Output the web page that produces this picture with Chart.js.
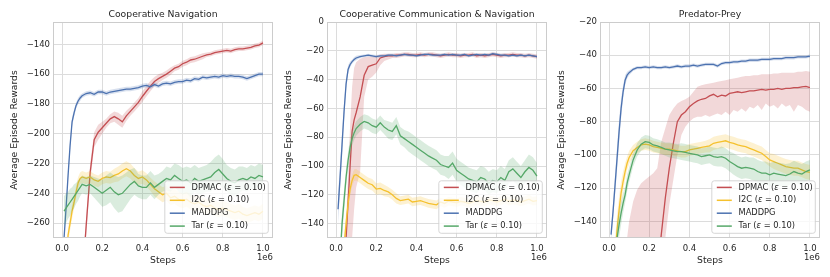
<!DOCTYPE html>
<html>
<head>
<meta charset="utf-8">
<script src="https://cdn.jsdelivr.net/npm/chart.js@4.4.0/dist/chart.umd.min.js"></script>
<style>
  body { margin: 0; background: #fff; width: 830px; height: 277px; position: relative; overflow: hidden; }
  .panel { position: absolute; top: 0; width: 277px; height: 277px; }
</style>
</head>
<body>
<div class="panel" style="left:0px"><canvas id="nav" width="277" height="277"></canvas></div>
<div class="panel" style="left:274px"><canvas id="comm" width="277" height="277"></canvas></div>
<div class="panel" style="left:547px"><canvas id="pp" width="277" height="277"></canvas></div>
<script>
// training steps (x 1e6)
const steps = [0.01, 0.02, 0.03, 0.04, 0.05, 0.06, 0.07, 0.08, 0.09, 0.10,
  0.12, 0.14, 0.16, 0.18, 0.20, 0.22, 0.24, 0.26, 0.28, 0.30,
  0.32, 0.34, 0.36, 0.38, 0.40, 0.42, 0.44, 0.46, 0.48, 0.50,
  0.52, 0.54, 0.56, 0.58, 0.60, 0.62, 0.64, 0.66, 0.68, 0.70,
  0.72, 0.74, 0.76, 0.78, 0.80, 0.82, 0.84, 0.86, 0.88, 0.90,
  0.92, 0.94, 0.96, 0.98, 1.00];

const xTicks = [0, 0.2, 0.4, 0.6, 0.8, 1.0];
const navYTicks = [-260, -240, -220, -200, -180, -160, -140];
const commYTicks = [-140, -120, -100, -80, -60, -40, -20, 0];
const ppYTicks = [-140, -120, -100, -80, -60, -40, -20];

const legendLabels = ['DPMAC (ε = 0.10)', 'I2C (ε = 0.10)', 'MADDPG', 'Tar (ε = 0.10)'];
const seriesColors = ['#C44E52', '#F5C12E', '#4C72B0', '#55A868'];

// ---- Cooperative Navigation ----
const navDpmac = [-420, -410, -400, -390, -380, -370, -360, -345, -330, -300,
  -262, -226, -204, -199, -196,
  -193, -190, -188.5, -190, -192,
  -188, -185, -182, -179, -175,
  -171.5, -168, -165, -163, -161.5,
  -160, -158, -156, -155, -153,
  -152, -150.5, -150, -149, -148,
  -147, -146.5, -145.5, -145, -144.5,
  -144, -144.5, -143.5, -143, -143,
  -142.5, -142, -141, -140.5, -139];
const navDpmacBand = [6, 6, 6, 6, 6, 6, 6, 6, 6, 6,
  6, 6, 5, 5, 4, 3, 3, 3.5, 4, 4, 3.5, 3, 3, 3, 3.5, 3.5, 3.5, 3, 3, 2.5,
  2.5, 2.5, 2, 2, 2, 2, 2, 2, 2, 2, 1.5, 1.5, 1.5, 1.5, 1.5,
  1.5, 1.5, 1.5, 1.5, 1.5, 1.5, 1.5, 1.5, 1.5, 1.5];
const navI2c = [-330, -290, -268, -260, -252, -246, -239, -233, -230, -229,
  -230, -229, -231, -232, -230,
  -229, -229.5, -228, -227, -225,
  -223.5, -225, -228, -230, -229,
  -231, -234, -237, -239, -241,
  -240, -243, -242, -244, -245,
  -244, -246, -247, -246, -248,
  -249, -248, -250, -251, -250,
  -251, -252, -253, -252, -254,
  -255, -254, -253, -254, -252];
const navI2cBand = [5, 5, 5, 5, 5, 4, 4, 4, 4, 4,
  4, 4, 4, 4, 4, 4, 4, 4.5, 5, 5, 5, 5, 5, 4.5, 4.5, 4.5, 4.5, 5, 5, 5,
  5, 5, 5, 5, 5, 5, 5, 5, 5, 5, 5, 5, 5, 5, 5,
  5, 5, 5, 5, 5, 5, 5, 5, 5, 5];
const navMaddpg = [-270, -250, -228, -208, -192, -186, -181, -178, -176, -174.5,
  -173, -172.5, -173.5, -172, -172,
  -173, -172, -171.5, -171, -170.5,
  -170, -170, -169.5, -169, -168,
  -167.5, -168.5, -167, -168, -166.5,
  -166, -166.5, -165.5, -165, -165,
  -164, -164.5, -163, -163.5, -162,
  -162.5, -162, -161.5, -162, -161,
  -161.5, -161, -161.5, -161.5, -162,
  -163, -162, -161, -160, -160];
const navMaddpgBand = [3, 3, 3, 3, 3, 2.5, 2, 2, 2, 1.5,
  1.5, 1.5, 1.5, 1.5, 1.5, 1.5, 1.5, 1.5, 1.5, 1.5, 1.5, 1.5, 1.5, 1.5, 1.5,
  1.5, 1.5, 1.5, 1.5, 1.5, 1.5, 1.5, 1.5, 1.5, 1.5, 1.5, 1.5, 1.5, 1.5, 1.5,
  1.5, 1.5, 1.5, 1.5, 1.5, 1.5, 1.5, 1.5, 1.5, 1.5, 1.5, 1.5, 1.5, 1.5, 1.5];
const navTar = [-252, -250, -248, -246, -244, -242, -240, -238, -236, -234,
  -235, -234, -236, -238, -240,
  -238, -236, -239, -241, -240,
  -237, -234, -232, -235, -236,
  -236, -233, -236, -234, -232,
  -230, -231, -228, -230, -232,
  -231, -233, -230, -232, -231,
  -230, -229, -226, -224, -227,
  -230, -232, -233, -231, -230,
  -231, -229, -230, -228, -229];
const navTarBand = [10, 10, 9, 9, 8, 8, 7, 7, 6, 6,
  6, 6, 7, 8, 9, 10, 10, 11, 12, 12, 11, 10, 9, 8, 8, 8, 8, 8, 7, 7,
  8, 8, 8, 9, 9, 9, 10, 9, 9, 9, 9, 10, 10, 10, 10,
  9, 9, 9, 9, 8, 8, 8, 8, 8, 8];

// ---- Cooperative Communication & Navigation ----
const commDpmac = [-220, -210, -195, -175, -150, -125, -100, -76, -68, -63,
  -52, -37, -31, -30, -29,
  -25, -24, -23.5, -23.5, -23,
  -23, -22.5, -22.5, -23, -23,
  -22.5, -23, -22.5, -22.5, -23,
  -23.5, -23, -22.5, -23, -23,
  -23.5, -23, -23, -22.5, -23.5,
  -23, -23.5, -23, -22.5, -23,
  -23.5, -23, -23, -22.5, -23,
  -23, -23.5, -23, -23.5, -24];
const commDpmacLo = [-260, -250, -240, -230, -220, -200, -175, -150, -130, -115,
  -104, -52, -40, -38, -35,
  -30, -27, -26, -25, -25,
  -24.5, -24, -24, -24.5, -24.5,
  -24, -24.5, -24, -24, -24.5,
  -25, -24.5, -24, -24.5, -24.5,
  -25, -24.5, -24.5, -24, -25,
  -24.5, -25, -24.5, -24, -24.5,
  -25, -24.5, -24.5, -24, -24.5,
  -24.5, -25, -24.5, -25, -25.5];
const commDpmacHi = [-200, -190, -180, -160, -140, -105, -72, -45, -32, -28,
  -25.5, -24.5, -24, -24, -23.5,
  -22.5, -22, -22, -22, -21.5,
  -21.5, -21, -21, -21.5, -21.5,
  -21, -21.5, -21, -21, -21.5,
  -22, -21.5, -21, -21.5, -21.5,
  -22, -21.5, -21.5, -21, -22,
  -21.5, -22, -21.5, -21, -21.5,
  -22, -21.5, -21.5, -21, -21.5,
  -21.5, -22, -21.5, -22, -22.5];
const commI2c = [-250, -220, -190, -155, -140, -126, -116, -110, -106.5, -106,
  -108, -110, -112, -113, -116,
  -115.5, -117, -118, -120, -122.5,
  -124, -123.5, -123, -125, -124.5,
  -124, -125, -126, -126.5, -127,
  -125, -126, -124.5, -125, -125.5,
  -124.5, -125, -126, -125, -124,
  -124.5, -125, -123.5, -124, -125,
  -124, -123, -124.5, -123.5, -124,
  -125, -124, -123, -124.5, -124];
const commI2cBand = [8, 8, 8, 8, 7, 6, 5, 4, 4, 4,
  4, 4, 4, 4, 4, 4, 4, 3.5, 3.5, 3.5, 3, 3, 3, 3, 3, 3, 3, 3, 3, 3,
  3, 3, 3, 3, 3, 3, 3, 3, 3, 3, 3, 3, 3, 3, 3,
  3, 3, 3, 3, 3, 3, 3, 3, 3, 3];
const commMaddpg = [-130, -108, -85, -62, -43, -33, -29.5, -27.5, -26, -25,
  -24, -23.5, -23, -23.5, -24,
  -23.5, -23.5, -23, -23, -23.5,
  -23, -22.5, -23, -23, -23.5,
  -23, -22.5, -22.5, -23, -23,
  -23, -22.5, -23, -22.5, -23,
  -23, -22.5, -23.5, -23, -22.5,
  -23, -22.5, -23, -22, -22.5,
  -23, -23, -23.5, -23, -23.5,
  -23, -23.5, -23, -23.5, -24];
const commMaddpgBand = [10, 9, 8, 6, 4, 3, 2, 1.5, 1.5, 1.5,
  1, 1, 1, 1, 1, 1, 1, 1, 1, 1, 1, 1, 1, 1, 1, 1, 1, 1, 1, 1,
  1, 1, 1, 1, 1, 1, 1, 1, 1, 1, 1, 1, 1, 1, 1,
  1, 1, 1, 1, 1, 1, 1, 1, 1, 1];
const commTar = [-200, -165, -140, -124, -108, -96, -87, -81, -77, -74,
  -71, -69, -70, -72, -73,
  -70, -73, -75, -76, -72,
  -79, -81, -83, -85, -87,
  -89, -91, -93, -94.5, -96,
  -99, -100, -101, -98, -103,
  -105, -107, -109, -110, -111,
  -108, -109, -112, -110, -111,
  -108, -110, -104, -102, -105,
  -108, -104, -101, -103, -107];
const commTarBand = [10, 10, 9, 8, 7, 6, 6, 5, 5, 5,
  5, 5, 5, 5, 5, 5, 5, 6, 6, 6, 6, 6, 7, 7, 7, 7, 7, 7, 7, 7,
  7, 7, 8, 8, 8, 8, 8, 8, 8, 8, 8, 8, 8, 8, 8,
  8, 8, 8, 8, 8, 8, 8, 9, 9, 9];

// ---- Predator-Prey ----
const ppDpmac = [-400, -390, -380, -370, -360, -350, -340, -330, -320, -310,
  -290, -270, -250, -230, -210,
  -190, -170, -148, -126, -108,
  -93, -80, -76, -74, -71,
  -69, -67.5, -66.5, -66, -64.5,
  -63.5, -65, -64, -64.5, -63,
  -62.5, -62, -62.5, -62, -61.5,
  -61.5, -61, -60.5, -61, -60.5,
  -60.5, -60, -60.5, -60, -60,
  -59.5, -59.5, -59, -58.8, -59.5];
const ppDpmacLo = [-450, -440, -430, -420, -410, -400, -390, -380, -370, -360,
  -340, -320, -300, -280, -260,
  -240, -215, -175, -150, -130,
  -115, -100, -88, -83, -80,
  -78, -77, -77, -76, -77,
  -76, -75, -76, -74, -76,
  -73, -74, -72, -74, -71,
  -72, -70, -73, -69, -71,
  -70, -72, -69, -71, -70,
  -74, -70, -71, -73, -74];
const ppDpmacHi = [-300, -280, -260, -240, -220, -200, -180, -165, -150, -140,
  -128, -121, -117, -115, -113,
  -111, -108, -92, -84, -76,
  -72, -69, -67.5, -66.5, -65,
  -62, -59, -58, -57.5, -57,
  -56.5, -56, -55.5, -55, -54.5,
  -54, -53.5, -53, -52.5, -52.5,
  -52, -52, -51.5, -51.5, -51.5,
  -51, -51, -50.5, -50.5, -50.5,
  -50.5, -50, -50, -49.5, -50];
const ppI2c = [-250, -200, -160, -145, -133, -123, -116, -110, -105, -101.5,
  -97.5, -95.5, -94, -93.5, -94,
  -95, -95.5, -96, -96.5, -96.5,
  -97, -97.5, -98, -98, -97,
  -96.5, -96, -95.5, -95, -94.5,
  -93, -92.5, -92, -91.5, -92.5,
  -93, -94, -94.5, -95, -96,
  -97, -98, -99, -101, -103,
  -104, -105, -106, -107, -107.5,
  -108, -108, -109, -110, -110.5];
const ppI2cBand = [10, 10, 10, 9, 8, 7, 6, 5, 4, 4,
  3.5, 3.5, 3.5, 3.5, 3.5, 3.5, 3.5, 3.5, 3.5, 3.5, 3.5, 3.5, 3.5, 3.5, 3.5,
  3.5, 3.5, 3.5, 3.5, 4, 4, 4, 4, 4, 4, 4, 4, 4, 4, 4,
  4, 4, 4, 4, 4, 4.5, 4.5, 4.5, 4.5, 4.5, 4.5, 4.5, 4.5, 4.5, 4.5];
const ppMaddpg = [-148, -134, -118, -102, -86, -72, -62, -55, -52, -50.5,
  -48.5, -47.5, -47.5, -47, -47.5,
  -47, -47.5, -47.5, -47, -47.5,
  -47, -46.5, -47, -46.5, -46.5,
  -46, -46.5, -46, -45.5, -45.5,
  -45.5, -46.5, -45, -44.5, -44.5,
  -44, -44, -43.5, -43.5, -43,
  -43, -43, -42.5, -42.5, -42.5,
  -42, -42, -42, -41.5, -41.5,
  -41.5, -41, -41, -41, -40.5];
const ppMaddpgBand = [4, 5, 6, 7, 7, 6, 4, 3, 2, 1.5,
  1, 1, 1, 1, 1, 1, 1, 1, 1, 1, 1, 1, 1, 1, 1, 1, 1, 1, 1, 1,
  1, 1, 1, 1, 1, 1, 1, 1, 1, 1, 1, 1, 1, 1, 1,
  1, 1, 1, 1, 1, 1, 1, 1, 1, 1];
const ppTar = [-250, -210, -175, -150, -142, -135, -129, -124, -117, -112,
  -103, -97, -93.5, -92, -92.5,
  -94, -94.5, -95.5, -96.5, -97,
  -97.5, -98, -98, -98.5, -99,
  -99.5, -100, -101, -100.5, -100,
  -101, -101.5, -101, -102, -104,
  -105.5, -107, -108, -107.5, -108,
  -108.5, -110, -111, -111, -112,
  -111, -111.5, -112, -112.5, -111.5,
  -110, -111, -111.5, -110, -109];
const ppTarBand = [10, 10, 10, 9, 8, 7, 6, 5, 5, 4.5,
  4, 4, 4, 4, 4, 4, 4, 4, 4, 4.5, 4.5, 4.5, 5, 5, 5, 5, 5, 5, 5, 5,
  5.5, 5.5, 6, 6, 6, 6.5, 6.5, 6.5, 6.5, 6.5, 7, 7, 7, 7, 7,
  7, 7, 7, 7, 6.5, 6.5, 6.5, 6, 6, 6];

const INK = '#262626';
const GRID = '#dcdcdc';
const EDGE = '#cccccc';
Chart.defaults.font.family = 'DejaVu Sans';
Chart.defaults.color = INK;

function pts(arr) {
  return steps.map((x, i) => ({ x: x, y: arr[i] }));
}

function rgba(hex, a) {
  const n = parseInt(hex.slice(1), 16);
  return 'rgba(' + (n >> 16) + ',' + ((n >> 8) & 255) + ',' + (n & 255) + ',' + a + ')';
}

// mean +/- half width of the shaded band
function spread(mean, band) {
  return {
    mean: mean,
    lo: mean.map((v, i) => v - band[i]),
    hi: mean.map((v, i) => v + band[i])
  };
}

function buildDatasets(list) {
  const out = [];
  list.forEach((s, k) => {
    const color = seriesColors[k];
    const order = 10 - k * 2; // DPMAC at the bottom, Tar on top
    out.push({ data: pts(s.lo), borderWidth: 0, borderColor: 'transparent', pointRadius: 0, fill: false, order: order + 1 });
    out.push({ data: pts(s.hi), borderWidth: 0, borderColor: 'transparent', backgroundColor: rgba(color, 0.22),
      pointRadius: 0, fill: '-1', order: order + 1 });
    out.push({ data: pts(s.mean), borderColor: color, borderWidth: 1.3, pointRadius: 0, fill: false,
      order: order, legendLabel: legendLabels[k] });
  });
  return out;
}

const extras = {
  id: 'extras',
  afterDatasetsDraw(chart) {
    const { ctx, chartArea: a } = chart;
    ctx.save();
    ctx.strokeStyle = EDGE;
    ctx.lineWidth = 1;
    ctx.strokeRect(a.left + 0.5, a.top + 0.5, a.width - 1, a.height - 1);
    ctx.restore();
  },
  afterDraw(chart, args, opts) {
    const { ctx, chartArea: a } = chart;
    ctx.save();
    ctx.fillStyle = INK;
    // panel title
    ctx.font = '9.25px "DejaVu Sans"';
    ctx.textAlign = 'center';
    ctx.textBaseline = 'middle';
    ctx.fillText(opts.title, (a.left + a.right) / 2, 14.6);

    // offset text of the x axis
    ctx.font = '8.5px "DejaVu Sans"';
    ctx.textAlign = 'right';
    ctx.fillText('1e6', a.right, 258);

    // legend box
    const w = 103.5, h = 52.5;
    const x0 = a.right - 4.7 - w, y0 = a.bottom - 4.7 - h;
    ctx.beginPath();
    ctx.roundRect(x0, y0, w, h, 2.5);
    ctx.fillStyle = 'rgba(255,255,255,0.8)';
    ctx.fill();
    ctx.strokeStyle = EDGE;
    ctx.lineWidth = 0.8;
    ctx.stroke();

    const items = chart.data.datasets.filter(d => d.legendLabel);
    items.forEach((d, i) => {
      const y = y0 + 6.6 + i * 12.9;
      ctx.strokeStyle = d.borderColor;
      ctx.lineWidth = 1.5;
      ctx.beginPath();
      ctx.moveTo(x0 + 5, y);
      ctx.lineTo(x0 + 20, y);
      ctx.stroke();
      ctx.fillStyle = INK;
      ctx.textAlign = 'left';
      let x = x0 + 26.7;
      const parts = d.legendLabel.split('ε');
      parts.forEach((p, j) => {
        if (j > 0) {
          ctx.font = 'italic 8.3px "DejaVu Sans"';
          ctx.fillText('ε', x, y);
          x += ctx.measureText('ε').width;
        }
        ctx.font = '8.3px "DejaVu Sans"';
        ctx.fillText(p, x, y);
        x += ctx.measureText(p).width;
      });
    });
    ctx.restore();
  }
};

function makeChart(id, title, yMin, yMax, yTicks, list) {
  const tickFont = { size: 8.5 };
  const labelFont = { size: 9.25 };
  return new Chart(document.getElementById(id), {
    type: 'line',
    data: { datasets: buildDatasets(list) },
    plugins: [extras],
    options: {
      responsive: false,
      animation: false,
      layout: { padding: { left: 0, right: 4, top: 22, bottom: 0 } },
      plugins: {
        legend: { display: false },
        tooltip: { enabled: false },
        extras: { title: title }
      },
      scales: {
        x: {
          type: 'linear',
          min: -0.045,
          max: 1.05,
          afterBuildTicks: s => { s.ticks = xTicks.map(v => ({ value: v })); },
          afterFit: s => { s.height = 39; },
          grid: { color: GRID, lineWidth: 1, drawTicks: false },
          border: { display: false },
          ticks: { color: INK, font: tickFont, padding: 6, maxRotation: 0, callback: v => v.toFixed(1) },
          title: { display: true, text: 'Steps', color: INK, font: labelFont, padding: { top: 0, bottom: 10.75 } }
        },
        y: {
          min: yMin,
          max: yMax,
          afterBuildTicks: s => { s.ticks = yTicks.map(v => ({ value: v })); },
          afterFit: s => { s.width = 53; },
          grid: { color: GRID, lineWidth: 1, drawTicks: false },
          border: { display: false },
          ticks: { color: INK, font: tickFont, padding: 3, callback: v => String(v).replace('-', '\u2212') },
          title: { display: true, text: 'Average Episode Rewards', color: INK, font: labelFont, padding: { top: 9.45, bottom: 0 } }
        }
      }
    }
  });
}

makeChart('nav', 'Cooperative Navigation', -270, -125, navYTicks, [
  spread(navDpmac, navDpmacBand),
  spread(navI2c, navI2cBand),
  spread(navMaddpg, navMaddpgBand),
  spread(navTar, navTarBand)
]);

makeChart('comm', 'Cooperative Communication & Navigation', -150, 0, commYTicks, [
  { mean: commDpmac, lo: commDpmacLo, hi: commDpmacHi },
  spread(commI2c, commI2cBand),
  spread(commMaddpg, commMaddpgBand),
  spread(commTar, commTarBand)
]);

makeChart('pp', 'Predator-Prey', -150, -20, ppYTicks, [
  { mean: ppDpmac, lo: ppDpmacLo, hi: ppDpmacHi },
  spread(ppI2c, ppI2cBand),
  spread(ppMaddpg, ppMaddpgBand),
  spread(ppTar, ppTarBand)
]);
</script>
</body>
</html>
